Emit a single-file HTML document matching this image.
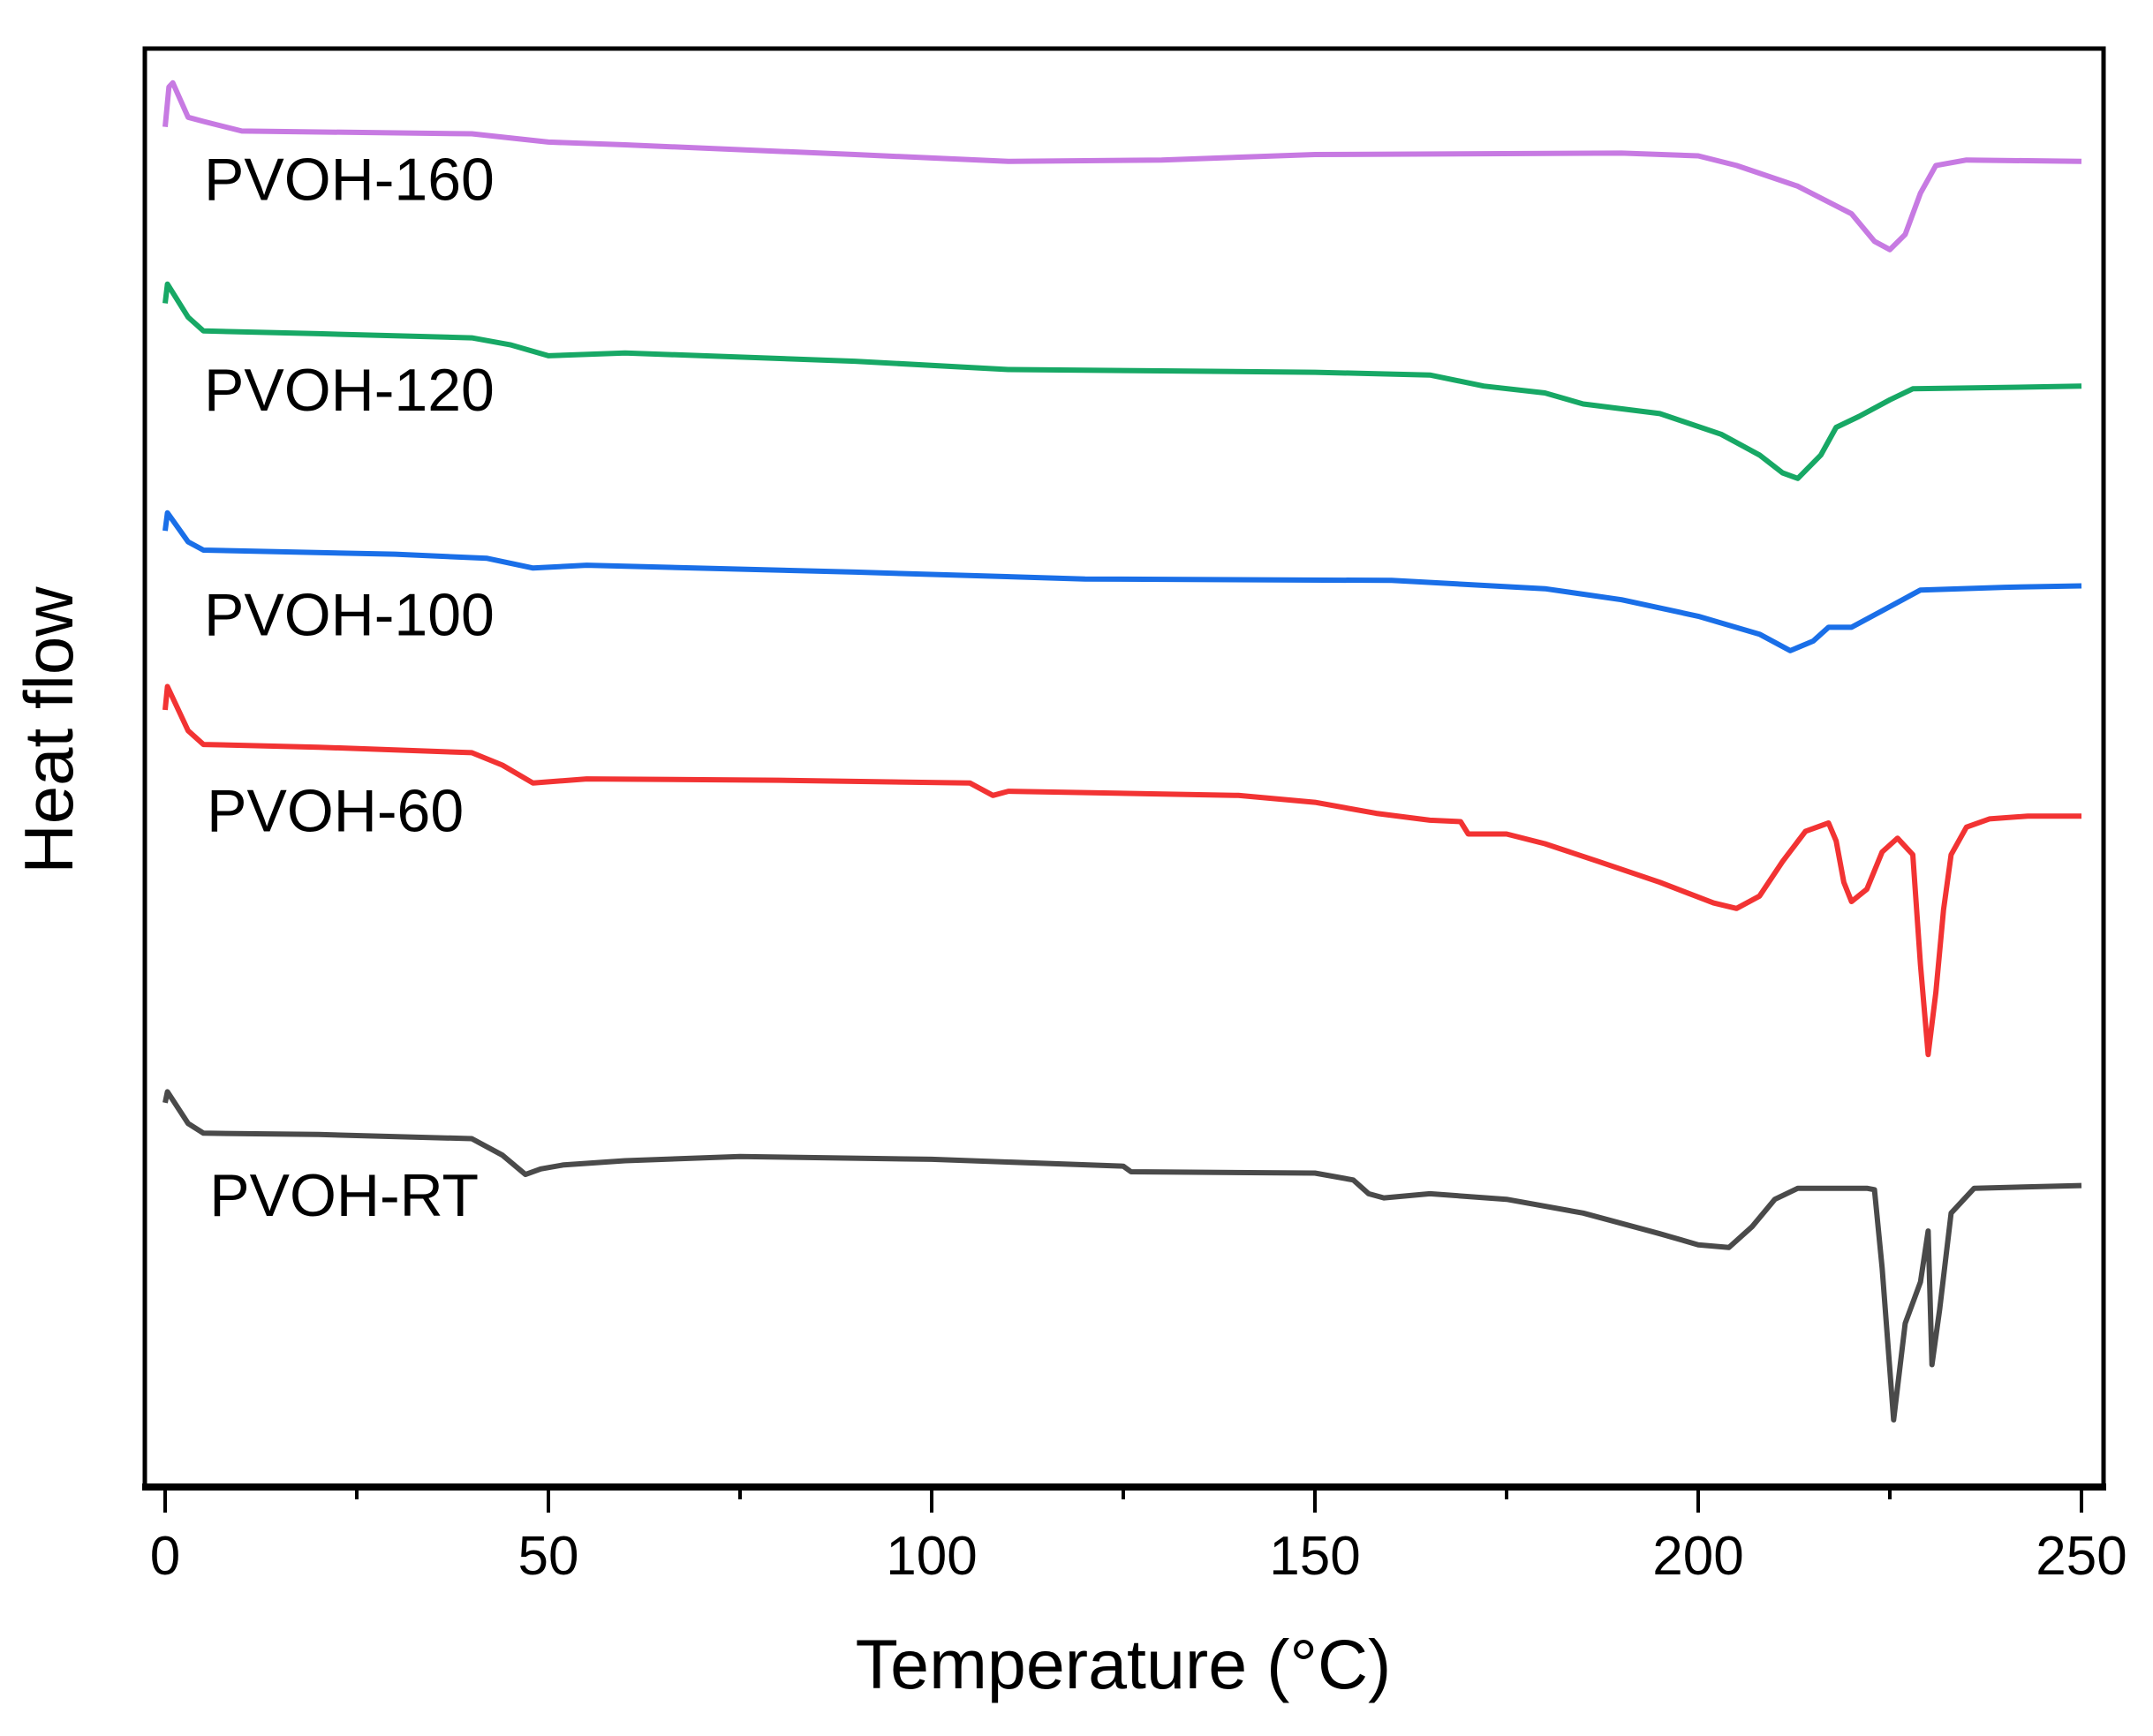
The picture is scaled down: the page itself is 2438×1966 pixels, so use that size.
<!DOCTYPE html>
<html><head><meta charset="utf-8"><style>
html,body{margin:0;padding:0;background:#fff;}
svg{display:block;}
text{font-family:"Liberation Sans",sans-serif;fill:#000;}
</style></head><body>
<svg id="chart" width="2438" height="1966" viewBox="0 0 2438 1966">
<rect x="164" y="55" width="2218" height="1629" fill="#fff" stroke="#000" stroke-width="5"/>
<line x1="161" y1="1684" x2="2385" y2="1684" stroke="#000" stroke-width="8"/>
<g id="xticks"></g>
<g id="series"></g>
<g id="labels"></g>
<text x="1272" y="1912" font-size="79" text-anchor="middle">Temperature (°C)</text>
<text transform="translate(82,827) rotate(-90)" font-size="78" text-anchor="middle">Heat flow</text>
</svg>
<script>
const xTicks = [0, 50, 100, 150, 200, 250];
const xMinorTicks = [25, 75, 125, 175, 225];
const seriesNames = ["PVOH-160", "PVOH-120", "PVOH-100", "PVOH-60", "PVOH-RT"];
const seriesColors = ["#c77ae2", "#17a865", "#1a6fe8", "#f23333", "#4a4a4a"];
const tempsA = [0,0.5,1,3,5,10,40,50,60,90,110,130,150,190,200,205,213,220,223,225,227,229,231,235,250];
const valsA  = [988,1017,1020,995,992,985,983,977,975,968,963,964,968,969,967,960,945,925,905,899,910,940,960,964,963];
const tempsB = [0,0.3,3,5,20,40,45,50,60,90,110,130,150,165,172,180,185,195,203,208,211,213,216,218,221,225,228,240,250];
const valsB  = [860,874,850,840,838,835,830,822,824,818,812,811,810,808,800,795,787,780,765,750,737,733,750,770,778,790,798,799,800];
const tempsC = [0,0.3,3,5,30,42,48,55,90,120,160,180,190,200,208,212,215,217,220,225,229,240,250];
const valsC  = [695,708,687,681,678,675,668,670,665,660,659,653,645,633,620,608,615,625,625,640,652,654,655];
const tempsD = [0,0.3,3,5,20,40,44,48,55,80,105,108,110,140,150,158,165,169,170,175,180,187,195,202,205,208,211,214,217,218,219,220,222,224,226,228,229,230,231,232,233,235,238,243,250];
const valsD  = [565,582,550,540,538,534,525,512,515,514,512,503,506,503,498,490,485,484,475,475,468,455,440,425,421,430,455,477,483,470,440,426,435,462,472,460,380,315,360,420,460,480,486,488,488];
const tempsE = [0,0.3,3,5,20,40,44,47,49,52,60,75,100,125,126,150,155,157,159,165,175,185,195,200,204,207,210,213,222,223,224,225.5,227,229,230,230.5,231.5,233,236,250];
const valsE  = [280,288,265,258,257,254,242,228,232,235,238,241,239,234,230,229,224,214,211,214,210,200,185,177,175,190,210,218,218,217,160,50,120,150,187,90,130,200,218,220];
const labelX = [148, 148, 148, 150, 152];
const labelY = [145, 298, 461, 603, 882];

const seriesT = [tempsA, tempsB, tempsC, tempsD, tempsE];
const seriesV = [valsA, valsB, valsC, valsD, valsE];
const NS = "http://www.w3.org/2000/svg";
function xScale(t){ return 187 + t * (2357 - 187) / 250; }
function yScale(v){ return 1686 - v * 1.561; }

const tg = document.getElementById('xticks');
xTicks.forEach(function(t){
  const l = document.createElementNS(NS,'line');
  l.setAttribute('x1', xScale(t)); l.setAttribute('x2', xScale(t));
  l.setAttribute('y1', 1684); l.setAttribute('y2', 1713);
  l.setAttribute('stroke','#000'); l.setAttribute('stroke-width','4');
  
  
  tg.appendChild(l);
  const tx = document.createElementNS(NS,'text');
  tx.setAttribute('x', xScale(t)); tx.setAttribute('y', 1783);
  tx.setAttribute('font-size','62'); tx.setAttribute('text-anchor','middle');
  tx.textContent = t;
  
  
  tg.appendChild(tx);
});
xMinorTicks.forEach(function(t){
  const l = document.createElementNS(NS,'line');
  l.setAttribute('x1', xScale(t)); l.setAttribute('x2', xScale(t));
  l.setAttribute('y1', 1684); l.setAttribute('y2', 1698);
  l.setAttribute('stroke','#000'); l.setAttribute('stroke-width','4');
  
  
  tg.appendChild(l);
});

const sg = document.getElementById('series');
const lg = document.getElementById('labels');
seriesNames.forEach(function(name, i){
  const T = seriesT[i], V = seriesV[i];
  let d = '';
  for (let k = 0; k < T.length; k++) {
    d += (k ? 'L' : 'M') + xScale(T[k]).toFixed(1) + ',' + yScale(V[k]).toFixed(1);
  }
  const p = document.createElementNS(NS,'path');
  p.setAttribute('d', d);
  p.setAttribute('fill','none');
  p.setAttribute('stroke', seriesColors[i]);
  p.setAttribute('stroke-width','6');
  p.setAttribute('stroke-linejoin','round');
  
  
  sg.appendChild(p);
  const tx = document.createElementNS(NS,'text');
  tx.setAttribute('x', labelX[i] * 1.561);
  tx.setAttribute('y', labelY[i] * 1.561);
  tx.setAttribute('font-size','68');
  tx.textContent = name;
  
  
  lg.appendChild(tx);
});
</script>
</body></html>
